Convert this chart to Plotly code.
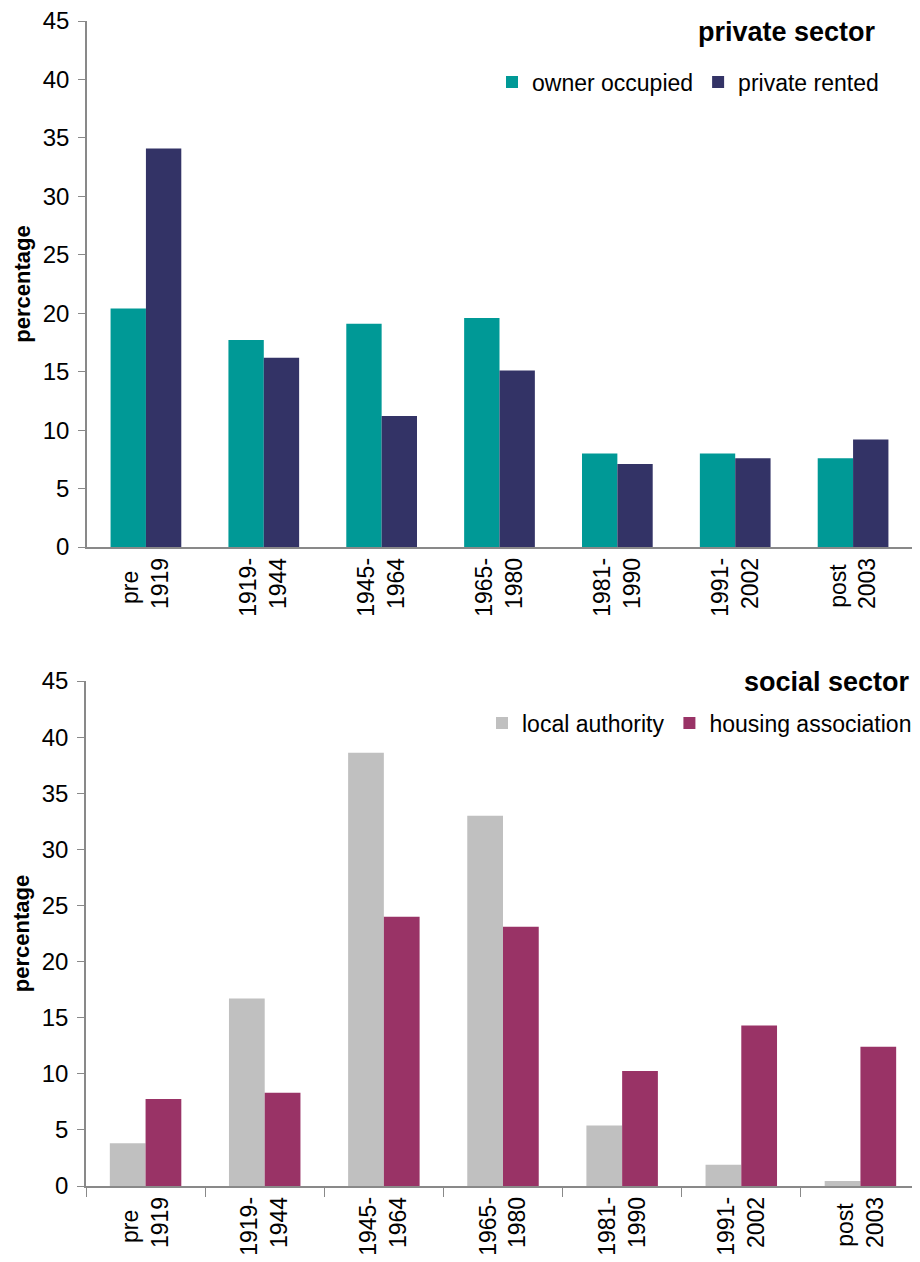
import plotly.graph_objects as go

# construction period categories (shared by both panels)
# (trailing nbsp keeps the short first line centred like the original)
periods = ["pre\u00a0\u00a0<br>1919", "1919-<br>1944", "1945-<br>1964", "1965-<br>1980",
           "1981-<br>1990", "1991-<br>2002", "post\u00a0<br>2003"]

# private sector (%)
owner_occupied = [20.4, 17.7, 19.1, 19.6, 8.0, 8.0, 7.6]
private_rented = [34.1, 16.2, 11.2, 15.1, 7.1, 7.6, 9.2]

# social sector (%)
local_authority = [3.8, 16.7, 38.6, 33.0, 5.4, 1.9, 0.45]
housing_association = [7.75, 8.3, 24.0, 23.1, 10.25, 14.3, 12.4]

FONT = "Liberation Sans, Arial, sans-serif"
OFF = 8  # page body margin, the figure starts 8px in
W, H = 920 - OFF, 1262 - OFF
ML, MR, MT, MB = 86 - OFF, 0, 21 - OFF, H - (1186 - OFF)
ph = H - MT - MB
pw = W - ML - MR

# window pixel -> paper fraction
def py(y):
    return (H - MB - (y - OFF)) / ph

def px(x):
    return (x - OFF - ML) / pw

fig = go.Figure()

fig.add_trace(go.Bar(x=periods, y=owner_occupied, name="owner occupied",
                     marker_color="#009996", xaxis="x", yaxis="y", legend="legend"))
fig.add_trace(go.Bar(x=periods, y=private_rented, name="private rented",
                     marker_color="#333366", xaxis="x", yaxis="y", legend="legend"))
fig.add_trace(go.Bar(x=periods, y=local_authority, name="local authority",
                     marker_color="#C0C0C0", xaxis="x2", yaxis="y2", legend="legend2"))
fig.add_trace(go.Bar(x=periods, y=housing_association, name="housing association",
                     marker_color="#993366", xaxis="x2", yaxis="y2", legend="legend2"))

fig.update_traces(marker_line_width=0)

yax = dict(range=[0, 45], dtick=5, showline=True, linecolor="#898989", linewidth=1.5,
           ticks="outside", ticklen=7, tickcolor="#898989", showgrid=False,
           zeroline=False, automargin=False, ticklabelstandoff=4,
           ticklabeloverflow="allow",
           tickfont=dict(size=24, color="black", family=FONT),
           title=dict(text="<b>percentage</b>", font=dict(size=22, color="black", family=FONT),
                      standoff=6))
xax = dict(showline=True, linecolor="#898989", linewidth=1.5, showgrid=False,
           automargin=False, tickangle=-90,
           tickfont=dict(size=23, color="black", family=FONT))

leg = dict(orientation="h", xanchor="right", yanchor="middle", bgcolor="rgba(0,0,0,0)",
           font=dict(size=23, color="black", family=FONT), itemwidth=30,
           traceorder="normal")

fig.update_layout(
    width=W, height=H,
    margin=dict(l=ML, r=MR, t=MT, b=MB, autoexpand=False),
    paper_bgcolor="white", plot_bgcolor="white",
    font=dict(family=FONT, color="black"),
    barmode="group", bargap=0.4, bargroupgap=0,
    xaxis=dict(xax, domain=[px(87), px(912)], anchor="y", ticks=""),
    yaxis=dict(yax, domain=[py(547), 1.0], anchor="x"),
    xaxis2=dict(xax, domain=[0.0, 1.0], anchor="y2", ticks="outside", ticklen=9,
                tickcolor="#898989", tickson="boundaries"),
    yaxis2=dict(yax, domain=[0.0, py(681)], anchor="x2"),
    legend=dict(leg, x=px(884), y=py(82)),
    legend2=dict(leg, x=px(917), y=py(723)),
    showlegend=True,
    annotations=[
        dict(text="<b>private sector</b>", xref="paper", yref="paper",
             x=px(878), y=py(32), xanchor="right", yanchor="middle",
             showarrow=False, font=dict(size=27, color="black", family=FONT)),
        dict(text="<b>social sector</b>", xref="paper", yref="paper",
             x=px(912), y=py(682), xanchor="right", yanchor="middle",
             showarrow=False, font=dict(size=27, color="black", family=FONT)),
    ],
)

fig.write_html("out.html")
